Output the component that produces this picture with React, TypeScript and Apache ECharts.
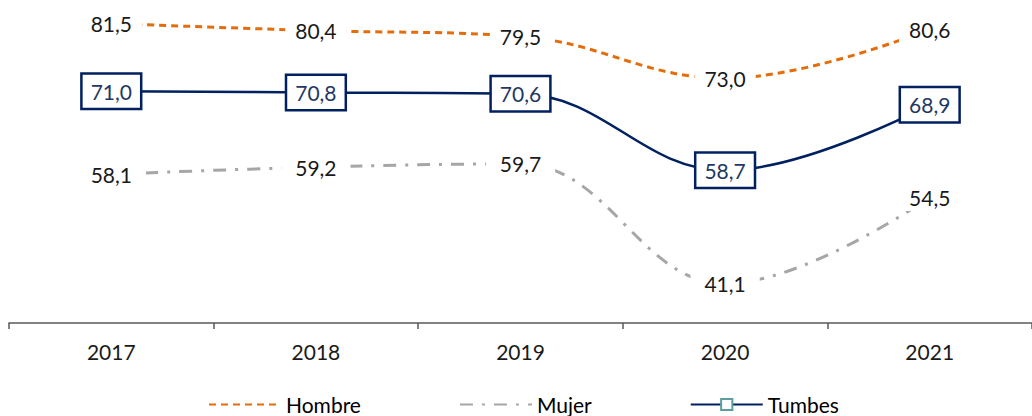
import React, { useEffect, useRef } from "react";
import * as echarts from "echarts";

const categories = ["2017", "2018", "2019", "2020", "2021"];
const hombre = [81.5, 80.4, 79.5, 73.0, 80.6];
const mujer = [58.1, 59.2, 59.7, 41.1, 54.5];
const tumbes = [71.0, 70.8, 70.6, 58.7, 68.9];

const FONT = "Lato, 'Open Sans', sans-serif";
const fmt = (p: any) => Number(p.value).toFixed(1).replace(".", ",");

export default function App() {
  const ref = useRef<HTMLDivElement>(null);
  useEffect(() => {
    const chart = echarts.init(ref.current!, null, { renderer: "svg" });
    const plainLabel = {
      show: true,
      position: "inside",
      formatter: fmt,
      color: "#1a1a1a",
      fontSize: 21,
      fontFamily: FONT,
      backgroundColor: "#ffffff",
      padding: [3, 10],
    };
    chart.setOption({
      animation: false,
      grid: { left: 9, right: -7, top: 1, bottom: 93, containLabel: false },
      legend: {
        top: 394,
        left: 208,
        padding: 0,
        itemWidth: 72,
        itemHeight: 14,
        itemGap: 98,
        textStyle: { fontSize: 21, color: "#000000", fontFamily: FONT },
        data: ["Hombre", "Mujer", "Tumbes"],
      },
      xAxis: {
        type: "category",
        data: categories,
        boundaryGap: true,
        axisLine: { lineStyle: { color: "#595959", width: 1.5 } },
        axisTick: { show: true, length: 6, lineStyle: { color: "#595959", width: 1.5 } },
        axisLabel: { color: "#1a1a1a", fontSize: 21, fontFamily: FONT, margin: 18 },
      },
      yAxis: {
        type: "value",
        min: 35,
        max: 85,
        show: false,
        splitLine: { show: false },
      },
      series: [
        {
          name: "Hombre",
          type: "line",
          data: hombre,
          smooth: 0.4,
          symbol: "circle",
          symbolSize: 1,
          showSymbol: true,
          lineStyle: { color: "#E46C0A", width: 3, type: [7, 5] },
          itemStyle: { color: "rgba(0,0,0,0)", borderWidth: 0 },
          label: plainLabel,
          z: 2,
        },
        {
          name: "Mujer",
          type: "line",
          data: mujer,
          smooth: 0.4,
          symbol: "circle",
          symbolSize: 1,
          showSymbol: true,
          lineStyle: { color: "#A6A6A6", width: 3, type: [13, 9, 3, 9] },
          itemStyle: { color: "rgba(0,0,0,0)", borderWidth: 0 },
          label: { ...plainLabel, padding: [3, 14] },
          z: 2,
        },
        {
          name: "Tumbes",
          type: "line",
          data: tumbes,
          smooth: 0.4,
          symbol: "rect",
          symbolSize: [11, 14],
          showSymbol: true,
          lineStyle: { color: "#002060", width: 2.5 },
          itemStyle: { color: "#ffffff", borderColor: "#5B9EA0", borderWidth: 2 },
          label: {
            show: true,
            position: "inside",
            formatter: fmt,
            color: "#1F3864",
            fontSize: 21,
            fontFamily: FONT,
            backgroundColor: "#ffffff",
            borderColor: "#002060",
            borderWidth: 2.5,
            padding: [6, 8],
          },
          z: 3,
        },
      ],
    });
    return () => chart.dispose();
  }, []);
  return (
    <div
      ref={ref}
      style={{ position: "fixed", left: 0, top: 0, width: 1032, height: 416, background: "#fff" }}
    />
  );
}
